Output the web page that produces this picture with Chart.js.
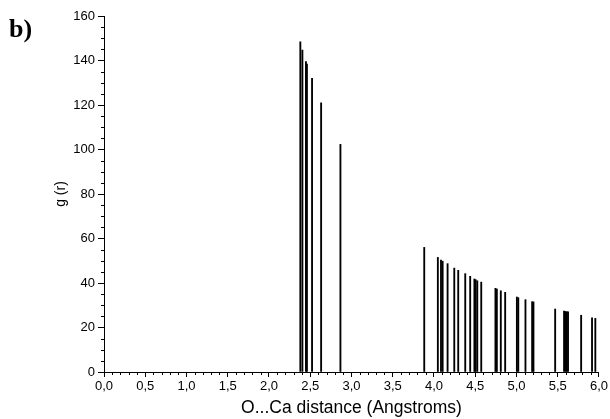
<!DOCTYPE html>
<html>
<head>
<meta charset="utf-8">
<script src="https://cdn.jsdelivr.net/npm/chart.js@4.4.1/dist/chart.umd.min.js"></script>
<style>
  html, body { margin: 0; padding: 0; background: #fff; }
  #wrap { position: relative; width: 610px; height: 419px; }
  #panel { position: absolute; left: 9px; top: 16px; font: bold 26px "Liberation Serif", "DejaVu Serif", serif; color: #000; line-height: 1; }
</style>
</head>
<body>
<div id="wrap">
  <canvas id="c" width="610" height="419"></canvas>
  <div id="panel">b)</div>
</div>
<script>
// O...Ca pair distances (Å) and their g(r) peak heights
const distances = [2.380, 2.405, 2.448, 2.460, 2.522, 2.632, 2.866,
  3.882, 4.047, 4.085, 4.105, 4.165, 4.246, 4.294, 4.379, 4.439,
  4.490, 4.505, 4.525, 4.573, 4.745, 4.762, 4.810, 4.863,
  5.005, 5.022, 5.109, 5.190, 5.206, 5.469,
  5.577, 5.593, 5.610, 5.625, 5.784, 5.916, 5.956];
const gValues = [148.4, 144.7, 139.5, 138.4, 132.0, 121.0, 102.3,
  56.0, 51.5, 50.3, 49.8, 48.7, 46.7, 45.7, 44.2, 43.0,
  41.8, 41.5, 41.0, 40.4, 37.6, 37.3, 36.5, 35.8,
  33.7, 33.4, 32.5, 31.6, 31.5, 28.3,
  27.4, 27.2, 27.1, 27.0, 25.5, 24.3, 24.1];

// axis tick settings
const xRange = [0, 6];
const xMajorStep = 0.5, xMinorStep = 0.1;
const yRange = [0, 160];
const yMajorStep = 20, yMinorStep = 5;

const FONT = '"Liberation Sans", Arial, Helvetica, sans-serif';

// short outward minor tick marks between the labelled ones
const minorTicks = {
  id: 'minorTicks',
  afterDraw(chart) {
    const ctx = chart.ctx;
    const xs = chart.scales.x, ys = chart.scales.y;
    ctx.save();
    ctx.strokeStyle = '#000';
    ctx.lineWidth = 1;
    ctx.beginPath();
    const nx = Math.round((xRange[1] - xRange[0]) / xMinorStep);
    for (let i = 0; i <= nx; i++) {
      if (i % 5 === 0) continue;
      const px = Math.round(xs.getPixelForValue(xRange[0] + i * xMinorStep)) + 0.5;
      ctx.moveTo(px, xs.top);
      ctx.lineTo(px, xs.top + 3);
    }
    const ny = Math.round((yRange[1] - yRange[0]) / yMinorStep);
    for (let i = 0; i <= ny; i++) {
      if (i % 4 === 0) continue;
      const py = Math.round(ys.getPixelForValue(yRange[0] + i * yMinorStep)) + 0.5;
      ctx.moveTo(ys.right, py);
      ctx.lineTo(ys.right - 3, py);
    }
    ctx.stroke();
    ctx.restore();
  }
};

new Chart(document.getElementById('c'), {
  type: 'bar',
  data: {
    datasets: [{
      data: distances.map((d, i) => ({ x: d, y: gValues[i] })),
      backgroundColor: '#000',
      borderWidth: 0,
      barThickness: 1.2
    }]
  },
  options: {
    responsive: false,
    animation: false,
    events: [],
    layout: { padding: { left: 0, right: 10, top: 16, bottom: 0 } },
    plugins: { legend: { display: false }, tooltip: { enabled: false } },
    scales: {
      x: {
        type: 'linear',
        min: xRange[0], max: xRange[1],
        offset: false,
        grid: { offset: false, drawOnChartArea: false, drawTicks: true, tickLength: 5, tickColor: '#000', color: '#000' },
        border: { display: true, color: '#000', width: 1 },
        ticks: {
          stepSize: xMajorStep, padding: 2, color: '#000', maxRotation: 0, autoSkip: false,
          font: { family: FONT, size: 13 },
          callback: v => v.toFixed(1).replace('.', ',')
        },
        title: { display: true, text: 'O...Ca distance (Angstroms)', color: '#000',
                 font: { family: FONT, size: 17.5 }, padding: { top: 0, bottom: 0 } },
        afterFit(scale) { scale.height = 47; }
      },
      y: {
        min: yRange[0], max: yRange[1],
        grid: { drawOnChartArea: false, drawTicks: true, tickLength: 6, tickColor: '#000', color: '#000' },
        border: { display: true, color: '#000', width: 1 },
        ticks: { stepSize: yMajorStep, padding: 3, color: '#000', font: { family: FONT, size: 13 } },
        title: { display: true, text: 'g (r)', color: '#000',
                 font: { family: FONT, size: 14 }, padding: { top: 53, bottom: 0 } },
        afterFit(scale) { scale.width = 104; }
      }
    }
  },
  plugins: [minorTicks]
});
</script>
</body>
</html>
